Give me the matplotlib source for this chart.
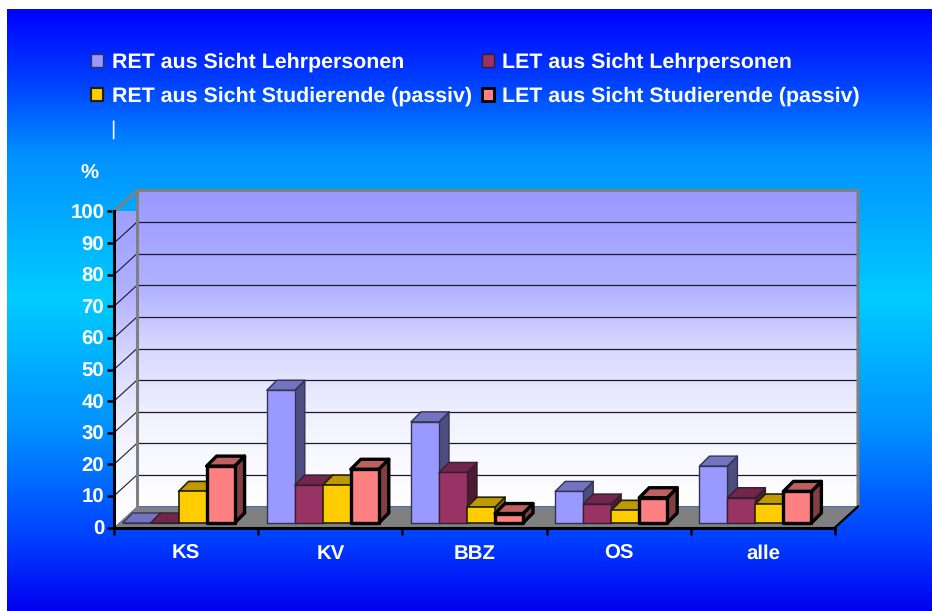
import numpy as np
import matplotlib
matplotlib.use('Agg')
import matplotlib.pyplot as plt
from matplotlib.colors import LinearSegmentedColormap, to_rgb
from matplotlib.patches import Patch, Polygon

plt.rcParams['font.family'] = ['Liberation Sans', 'DejaVu Sans']
plt.rcParams['font.weight'] = 'bold'
plt.rcParams['text.hinting'] = 'none'

# ── Data ──────────────────────────────────────────────────────────────────────
categories = ['KS', 'KV', 'BBZ', 'OS', 'alle']
y_ticks = list(range(0, 101, 10))
series_names = ['RET aus Sicht Lehrpersonen', 'RET aus Sicht Studierende (passiv)',
                'LET aus Sicht Lehrpersonen', 'LET aus Sicht Studierende (passiv)']
ret_lehr = [0, 42, 32, 10, 18]
let_lehr = [0, 12, 16, 6, 8]
ret_stud = [10, 12, 5, 4, 6]
let_stud = [18, 17, 3, 8, 10]

series = [ret_lehr, let_lehr, ret_stud, let_stud]
colors = ['#9999FF', '#993366', '#FFCC00', '#FF8080']
edge_w = [1.0, 1.0, 1.2, 2.4]
edge_c = ['#333355', '#33202a', '#222200', '#000000']

W, H = 932, 611
fig = plt.figure(figsize=(W / 100, H / 100), dpi=100, facecolor='white')

# ── Page gradient ─────────────────────────────────────────────────────────────
bg = fig.add_axes([7 / W, 0, 1 - 7 / W, 1 - 9 / H])
page = LinearSegmentedColormap.from_list('page', [
    (0.0, '#0000FF'), (0.12, '#0040FF'), (0.24, '#0090FF'), (0.48, '#00CCFF'),
    (0.70, '#0090FF'), (0.88, '#0040FF'), (1.0, '#0000F0')])
bg.imshow(np.linspace(0, 1, 256)[:, None], cmap=page, aspect='auto')
bg.axis('off')

# ── Main axes = front plane of the 3D box ─────────────────────────────────────
ax = fig.add_axes([114 / W, (H - 527.5) / H, 721 / W, 316 / H])
ax.patch.set_visible(False)
ux, uy = 721 / 5, 316 / 100  # pixels per data unit
box_dx, box_dy = 23 / ux, 21 / uy

wall = LinearSegmentedColormap.from_list('wall', [
    (0.0, '#9999FF'), (0.3, '#B0B0FF'), (0.5, '#D8D8FF'), (0.75, '#F4F4FF'), (1.0, '#FFFFFF')])
grad = np.linspace(0, 1, 256)[:, None]
back = ax.imshow(grad, cmap=wall, aspect='auto', zorder=1,
                 extent=(box_dx, 5 + box_dx, box_dy, 100 + box_dy), origin='upper')
back.set_clip_on(False)
side = ax.imshow(grad, cmap=wall, aspect='auto', zorder=1,
                 extent=(0, box_dx, 0, 100 + box_dy), origin='upper')
side.set_clip_path(Polygon([(0, 0), (box_dx, box_dy), (box_dx, 100 + box_dy), (0, 100)],
                           transform=ax.transData))
ax.add_patch(Polygon([(0, 0), (5, 0), (5 + box_dx, box_dy), (box_dx, box_dy)],
                     facecolor='#808080', edgecolor='none', zorder=1.5, clip_on=False))

for v in y_ticks[1:-1]:
    ax.plot([box_dx, 5 + box_dx], [v + box_dy] * 2, color='#1a1a2a', lw=0.9, zorder=2, clip_on=False)
    ax.plot([0, box_dx], [v, v + box_dy], color='#1a1a2a', lw=0.8, zorder=2, clip_on=False)

gray = '#808080'
ax.plot([0, box_dx, 5 + box_dx, 5 + box_dx], [100, 100 + box_dy, 100 + box_dy, box_dy],
        color=gray, lw=2.2, zorder=2.5, clip_on=False, solid_joinstyle='miter')
ax.plot([box_dx, box_dx], [box_dy, 100 + box_dy], color=gray, lw=2.2, zorder=2.5, clip_on=False)
ax.plot([5, 5 + box_dx], [0, box_dy], color='black', lw=1.6, zorder=3, clip_on=False)

# ── Bars ──────────────────────────────────────────────────────────────────────
bar_w = 28 / ux
start = 8.6 / ux
base = 4.5 / uy
bar_dx, bar_dy = 10 / ux, 10 / uy


def shade(col, f):
    return tuple(c * f for c in to_rgb(col))


z = 4.0
for i in range(len(categories)):
    for j, vals in enumerate(series):
        x0 = i + start + j * bar_w
        x1 = x0 + bar_w
        top = base + vals[i]
        style = dict(edgecolor=edge_c[j], linewidth=edge_w[j], joinstyle='round', clip_on=False)
        ax.add_patch(Polygon([(x1, base), (x1 + bar_dx, base + bar_dy),
                              (x1 + bar_dx, top + bar_dy), (x1, top)],
                             facecolor=shade(colors[j], 0.5), zorder=z, **style))
        ax.add_patch(Polygon([(x0, top), (x1, top), (x1 + bar_dx, top + bar_dy),
                              (x0 + bar_dx, top + bar_dy)],
                             facecolor=shade(colors[j], 0.75), zorder=z, **style))
        ax.bar(x0, vals[i], bar_w, bottom=base, align='edge', color=colors[j],
               zorder=z + 0.1, **style)
        z += 0.2

# ── Axes, ticks, text ─────────────────────────────────────────────────────────
ax.set_xlim(0, 5)
ax.set_ylim(0, 100)
for s in ['top', 'right']:
    ax.spines[s].set_visible(False)
for s in ['left', 'bottom']:
    ax.spines[s].set_linewidth(2.2)
    ax.spines[s].set_zorder(30)
ax.set_yticks(y_ticks)
ax.set_xticks(range(6))
ax.set_xticklabels([])
ax.set_xticks(np.arange(5) + 0.5, minor=True)
ax.set_xticklabels(categories, minor=True)
ax.tick_params(axis='x', which='major', length=5, width=1.8, color='black', direction='out')
ax.tick_params(axis='x', which='minor', length=0, pad=12, labelsize=14.7, labelcolor='white')
ax.tick_params(axis='y', length=5, width=1.8, color='black', direction='out', pad=2,
               labelsize=14.7, labelcolor='white')

fig.text(90 / W, 1 - 174 / H, '%', color='white', fontsize=14.7, ha='center', va='center')
fig.text(113 / W, 1 - 130 / H, '|', color='white', fontsize=14.7, fontweight='normal',
         ha='center', va='center')

handles = [Patch(facecolor=colors[0], edgecolor=edge_c[0], linewidth=1.0),
           Patch(facecolor=colors[2], edgecolor=edge_c[2], linewidth=1.5),
           Patch(facecolor=colors[1], edgecolor=edge_c[1], linewidth=1.0),
           Patch(facecolor=colors[3], edgecolor=edge_c[3], linewidth=2.0)]
fig.legend(handles, series_names, ncol=2, frameon=False, fontsize=15.4,
           labelcolor='white', loc='upper left', bbox_to_anchor=(85 / W, 1 - 46 / H),
           borderaxespad=0, borderpad=0.3, handlelength=0.56, handleheight=0.56,
           handletextpad=0.38, columnspacing=0.5, labelspacing=0.68)

plt.savefig('out.png', dpi=100)
plt.close()
